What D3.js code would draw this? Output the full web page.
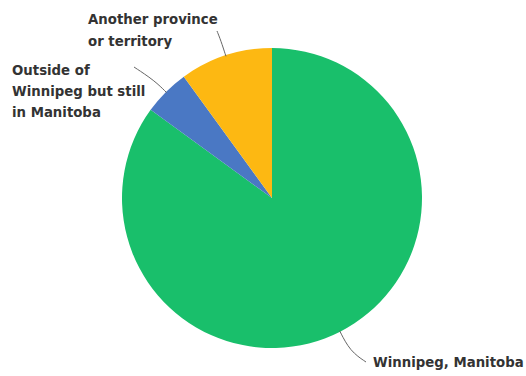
<!DOCTYPE html>
<html>
<head>
<meta charset="utf-8">
<script src="https://cdn.jsdelivr.net/npm/d3@7"></script>
<style>
  html, body { margin: 0; padding: 0; background: #fff; }
  svg { display: block; }
  .lbl { font-family: "DejaVu Sans", sans-serif; font-weight: 700; font-size: 13.3px; fill: #333; }
</style>
</head>
<body>
<svg id="chart" width="526" height="376"></svg>
<script>
// Where respondents live
const categories = ["Winnipeg, Manitoba", "Outside of Winnipeg but still in Manitoba", "Another province or territory"];
const shares = [85, 5, 10];
const colors = ["#19BF6B", "#4A78C4", "#FDB812"];
const labelLines = [
  ["Winnipeg, Manitoba"],
  ["Outside of", "Winnipeg but still", "in Manitoba"],
  ["Another province", "or territory"]
];

const W = 526, H = 376;
const cx = 272, cy = 198, R = 150;

const svg = d3.select("#chart");
const g = svg.append("g").attr("transform", `translate(${cx},${cy})`);

const pie = d3.pie().sort(null).value(d => d.v).startAngle(0).endAngle(2 * Math.PI);
const data = categories.map((c, i) => ({ c, v: shares[i], color: colors[i], lines: labelLines[i] }));
const arcs = pie(data);

const arc = d3.arc().innerRadius(0).outerRadius(R);

g.selectAll("path.slice")
  .data(arcs)
  .enter().append("path")
  .attr("class", "slice")
  .attr("d", arc)
  .attr("fill", d => d.data.color);

// label placement (text block anchor + leader end point), in page coords
const labelLayout = [
  { x: 373, y: 367, lineH: 22, end: [366, 362], elbowR: 172 },
  { x: 12, y: 75, lineH: 21, end: [134, 67], elbowR: 166 },
  { x: 88, y: 24, lineH: 22, end: [217, 31], elbowR: 166 }
];

const pt = (a, r) => [cx + r * Math.sin(a), cy - r * Math.cos(a)];
const leader = d3.line().curve(d3.curveBasis);

arcs.forEach((d, i) => {
  const L = labelLayout[i];
  const mid = (d.startAngle + d.endAngle) / 2;
  const p0 = pt(mid, R - 1);
  const p1 = pt(mid, L.elbowR);
  svg.append("path")
    .attr("d", leader([p0, p1, L.end]))
    .attr("fill", "none")
    .attr("stroke", "#666")
    .attr("stroke-width", 1);

  const t = svg.append("text").attr("class", "lbl");
  d.data.lines.forEach((ln, k) => {
    t.append("tspan").attr("x", L.x).attr("y", L.y + k * L.lineH).text(ln);
  });
});
</script>
</body>
</html>
